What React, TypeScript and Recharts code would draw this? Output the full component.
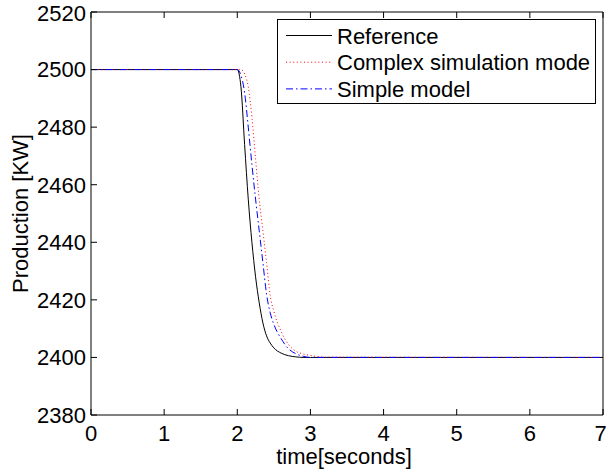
import * as React from "react";
import { LineChart, Line, XAxis, YAxis, Legend } from "recharts";

// time axis (seconds) shared by the three traces
const times = [0, 2.0, 2.05, 2.1, 2.15, 2.2, 2.25, 2.3, 2.35, 2.4, 2.45, 2.5, 2.6, 2.7, 2.8, 2.9, 3.0, 3.2, 7];

const reference = [2500, 2500, 2494, 2474, 2455, 2440, 2428, 2419, 2412, 2407.5, 2405, 2403.3, 2401.5, 2400.6, 2400.2, 2400, 2400, 2400, 2400];
const complexModel = [2500, 2500, 2500, 2498.5, 2494, 2483.5, 2469, 2455, 2444, 2433, 2421.5, 2416, 2409, 2404.5, 2402.2, 2401.2, 2400.7, 2400.1, 2400];
const simpleModel = [2500, 2500, 2498, 2492, 2480, 2467, 2455, 2444, 2433, 2422, 2415.5, 2411.5, 2406.5, 2403, 2401.3, 2400.4, 2400, 2400, 2400];

const xTicks = [0, 1, 2, 3, 4, 5, 6, 7];
const yTicks = [2380, 2400, 2420, 2440, 2460, 2480, 2500, 2520];

const series = [
  { key: "reference", name: "Reference", color: "#000000", dash: undefined as string | undefined },
  { key: "complex", name: "Complex simulation mode", color: "#ff0000", dash: "1 2.6" },
  { key: "simple", name: "Simple model", color: "#0000ff", dash: "7 3 1.5 3" },
];

const data = times.map((t, i) => ({
  t,
  reference: reference[i],
  complex: complexModel[i],
  simple: simpleModel[i],
}));

const font = "'Liberation Sans', Arial, Helvetica, sans-serif";
const tickStyle = { fill: "#000", fontSize: 22, fontFamily: font };

function YLabel(props: any) {
  const vb = props.viewBox || {};
  const cx = 27.5;
  const cy = (vb.y ?? 12) + (vb.height ?? 403) / 2;
  return (
    <text
      x={cx}
      y={cy}
      transform={`rotate(-90 ${cx} ${cy})`}
      textAnchor="middle"
      fill="#000"
      fontSize={22}
      fontFamily={font}
    >
      Production [KW]
    </text>
  );
}

function XLabel(props: any) {
  const vb = props.viewBox || {};
  const cx = (vb.x ?? 91) + (vb.width ?? 512) / 2 - 3;
  return (
    <text x={cx} y={463.5} textAnchor="middle" fill="#000" fontSize={22} fontFamily={font}>
      time[seconds]
    </text>
  );
}

function LegendBox() {
  const rows = [24.5, 51.2, 77.9];
  return (
    <svg width={320} height={86} style={{ display: "block" }}>
      <rect x={0.5} y={0.5} width={318} height={84} fill="#fff" stroke="#000" strokeWidth={1} />
      {series.map((s, i) => (
        <g key={s.key}>
          <line
            x1={9}
            x2={55}
            y1={rows[i] - 8}
            y2={rows[i] - 8}
            stroke={s.color}
            strokeWidth={1}
            strokeDasharray={s.dash}
          />
          <text x={60} y={rows[i]} fontSize={22} fontFamily={font} fill="#000">
            {s.name}
          </text>
        </g>
      ))}
    </svg>
  );
}

export default function App() {
  return (
    <div style={{ position: "absolute", left: 0, top: 0, background: "#fff" }}>
      <LineChart width={606} height={469} data={data} margin={{ top: 11, right: 2, bottom: 24, left: 0 }}>
        <XAxis
          dataKey="t"
          type="number"
          domain={[0, 7]}
          ticks={xTicks}
          stroke="#000"
          tickSize={-6}
          tickMargin={16}
          height={30}
          tick={tickStyle}
          label={<XLabel />}
        />
        <XAxis
          xAxisId="top"
          orientation="top"
          dataKey="t"
          type="number"
          domain={[0, 7]}
          ticks={xTicks}
          stroke="#000"
          tickSize={-6}
          height={1}
          tickFormatter={() => ""}
        />
        <YAxis
          type="number"
          domain={[2380, 2520]}
          ticks={yTicks}
          stroke="#000"
          tickSize={-6}
          tickMargin={11}
          width={91}
          tick={tickStyle}
          label={<YLabel />}
        />
        <YAxis
          yAxisId="right"
          orientation="right"
          type="number"
          domain={[2380, 2520]}
          ticks={yTicks}
          stroke="#000"
          tickSize={-6}
          width={1}
          tickFormatter={() => ""}
        />
        <Legend
          layout="vertical"
          align="center"
          verticalAlign="middle"
          content={() => <LegendBox />}
          wrapperStyle={{ position: "absolute", left: 277, top: 19, width: 320, height: 86 }}
        />
        {series.map((s) => (
          <Line
            key={s.key}
            type="monotone"
            dataKey={s.key}
            name={s.name}
            stroke={s.color}
            strokeWidth={1}
            strokeDasharray={s.dash}
            dot={false}
            activeDot={false}
            isAnimationActive={false}
          />
        ))}
      </LineChart>
    </div>
  );
}
